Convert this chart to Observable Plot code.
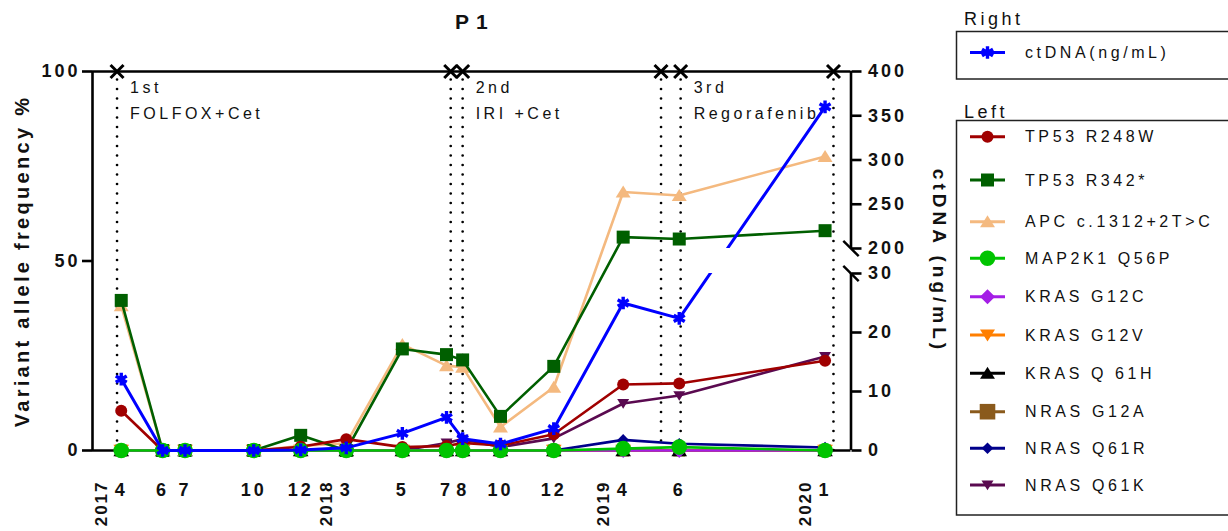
<!DOCTYPE html>
<html><head><meta charset="utf-8">
<script src="https://cdn.jsdelivr.net/npm/d3@7"></script>
<script src="https://cdn.jsdelivr.net/npm/@observablehq/plot@0.6"></script>
<style>
html,body{margin:0;padding:0;background:#fff;}
#wrap{position:relative;width:1228px;height:531px;overflow:hidden;background:#fff;}
#wrap svg{position:absolute;left:0;top:0;}
svg text{font-family:"Liberation Sans",Arial,sans-serif;letter-spacing:3px;fill:#111;}
g[aria-label="y-axis tick label"] text, g[aria-label="x-axis tick label"] text{font-weight:bold;letter-spacing:3px;}
g[aria-description="title"] text{letter-spacing:7px;}
g[aria-description="ylabel"] text{letter-spacing:3.3px;}
g[aria-description="rlabel"] text{letter-spacing:4px;}
g[aria-description="note"] text{letter-spacing:3.5px;}
g[aria-description="year"] text{letter-spacing:2px;}
</style></head>
<body><div id="wrap"></div>
<script>
// ---------- data ----------
const sampleDates = ["2017-04-16","2017-06-14","2017-07-16","2017-10-22","2017-12-28","2018-03-03","2018-05-22","2018-07-24","2018-08-16","2018-10-09","2018-12-24","2019-04-02","2019-06-21","2020-01-15"];
const monthLabels = ["4","6","7","10","12","3","5","7","8","10","12","4","6","1"];
const yearLabels = ["2017","2018","2019","2020"];
const yearFirstSample = [0,5,11,13];
const xDomain = ["2017-03-06","2020-02-21"];

const geneNames = ["TP53 R248W","TP53 R342*","APC c.1312+2T>C","MAP2K1 Q56P","KRAS G12C","KRAS G12V","KRAS Q 61H","NRAS G12A","NRAS Q61R","NRAS Q61K"];
const tp53R248W = [10.5,0,0,0,1.0,3.0,0.9,1.2,2.0,1.3,4.3,17.4,17.7,23.7];
const tp53R342  = [39.6,0,0,0,4.0,0,26.8,25.3,23.9,9.0,22.2,56.3,55.8,58.0];
const apc       = [38.2,0,0,0,1.2,1.9,28.0,22.4,22.0,6.2,16.7,68.2,67.3,77.6];
const map2k1    = [0,0,0,0,0,0,0,0,0,0,0,0.5,0.9,0];
const krasG12C  = [0,0,0,0,0,0,0,0,0,0,0,0,0,0];
const krasG12V  = [0,0,0,0,0,0,0,0,0,0,0,0,0,0];
const krasQ61H  = [0,0,0,0,0,0,0,0,0,0,0,0,0,0];
const nrasG12A  = [0,0,0,0,0,0,0,0,0,0,0,0,0,0];
const nrasQ61R  = [0,0,0,0,0,0,0,0,0,0,0,2.8,1.8,0.8];
const nrasQ61K  = [0,0,0,0,0,0,0,2.0,3.0,0.9,3.2,12.4,14.5,24.8];
const ctDNA     = [12.1,0,0,0,0.1,0.45,2.9,5.6,2.0,1.1,3.7,25.0,22.4,360];

const leftTicks = [0,50,100];
const rightTicks = [0,10,20,30,200,250,300,350,400];
const rightBreak = [30,200];

const treatments = ["1st","2nd","3rd"];
const regimens = ["FOLFOX+Cet","IRI +Cet","Regorafenib"];
const treatmentStart = ["2017-04-10","2018-08-16","2019-06-23"];
const treatmentEnd = ["2018-07-30","2019-05-26","2020-01-27"];

// ---------- styles ----------
const geneValues = [tp53R248W,tp53R342,apc,map2k1,krasG12C,krasG12V,krasQ61H,nrasG12A,nrasQ61R,nrasQ61K];
const geneColors = ["#a00000","#005f00","#f4b97f","#00c400","#a41ee6","#ff7f00","#000000","#8a5a1c","#00008b","#5a0a50"];
function custom(fn){return {draw(c,size){fn(c,Math.sqrt(size/Math.PI));}};}
const sqSym = custom((c,r)=>{c.moveTo(-r,-r);c.lineTo(r,-r);c.lineTo(r,r);c.lineTo(-r,r);c.closePath();});
const triUpSym = custom((c,r)=>{c.moveTo(0,-r);c.lineTo(1.15*r,0.85*r);c.lineTo(-1.15*r,0.85*r);c.closePath();});
const triDownSym = custom((c,r)=>{c.moveTo(0,r);c.lineTo(1.15*r,-0.85*r);c.lineTo(-1.15*r,-0.85*r);c.closePath();});
const diaSym = custom((c,r)=>{c.moveTo(0,-r);c.lineTo(r,0);c.lineTo(0,r);c.lineTo(-r,0);c.closePath();});
const timesSym = custom((c,r)=>{c.moveTo(-r,-r);c.lineTo(r,r);c.moveTo(r,-r);c.lineTo(-r,r);});
const slashSym = custom((c,r)=>{c.moveTo(-r,-r);c.lineTo(r,r);});
const geneSymbols = [d3.symbolCircle,sqSym,triUpSym,d3.symbolCircle,diaSym,triDownSym,triUpSym,sqSym,diaSym,triDownSym];
const geneSizes = [6,6.5,6.5,7.8,7.5,6.8,6.8,6,5.8,5.2];
const drawOrder = [9,8,7,6,5,4,2,1,0,3];

const W = 1228, H = 531;
const mL = 92, mR = 377.5, mT = 71, mB = 81;
const xStart = new Date(xDomain[0]), xEnd = new Date(xDomain[1]);
const dates = sampleDates.map(d => new Date(d));
const labelByTime = new Map(dates.map((d,i)=>[+d, monthLabels[i]]));
const boundaries = [...treatmentStart, ...treatmentEnd].map(d => new Date(d));
const yearRows = yearLabels.map((label,i)=>({label, date: dates[yearFirstSample[i]]}));
const ctRows = dates.map((d,j)=>({date:d, value: ctDNA[j]}));

const geneMarks = drawOrder.flatMap(i => {
  const rows = dates.map((d,j)=>({date:d, value: geneValues[i][j]}));
  return [
    Plot.line(rows, {x:"date", y:"value", stroke: geneColors[i], strokeWidth: 2.6}),
    Plot.dot(rows, {x:"date", y:"value", symbol: geneSymbols[i], r: geneSizes[i], fill: geneColors[i], stroke: "none"})
  ];
});

const plotA = Plot.plot({
  width: W, height: H, marginLeft: mL, marginRight: mR, marginTop: mT, marginBottom: mB,
  style: {background: "transparent", overflow: "visible"},
  x: {type: "utc", domain: [xStart, xEnd]},
  y: {domain: [0, 100]},
  marks: [
    Plot.ruleX(boundaries, {y1: 0, y2: 100, stroke: "#000", strokeWidth: 2.7, strokeDasharray: "0 9.5", strokeLinecap: "round"}),
    Plot.ruleY([0, 100], {stroke: "#000", strokeWidth: 2.6}),
    Plot.ruleX([xStart], {y1: 0, y2: 100, stroke: "#000", strokeWidth: 2.6}),
    Plot.dot(boundaries, {x: d => d, y: () => 100, symbol: timesSym, r: 6.5, stroke: "#000", strokeWidth: 3, fill: "none"}),
    Plot.text(treatments, {x: (d,i) => new Date(treatmentStart[i]), frameAnchor: "top", dx: 13, dy: 16, textAnchor: "start", lineAnchor: "middle", fontSize: 16, ariaDescription: "note"}),
    Plot.text(regimens, {x: (d,i) => new Date(treatmentStart[i]), frameAnchor: "top", dx: 13, dy: 42, textAnchor: "start", lineAnchor: "middle", fontSize: 16, ariaDescription: "note"}),
    ...geneMarks,
    Plot.axisY(leftTicks, {anchor: "left", tickSize: 10, tickPadding: 2, fontSize: 18, fontWeight: "bold", strokeWidth: 2.6, label: null}),
    Plot.axisX(dates, {anchor: "bottom", tickSize: 0, tickPadding: 33, fontSize: 18, fontWeight: "bold", tickFormat: d => labelByTime.get(+d), label: null}),
    Plot.text(yearRows, {x: "date", text: "label", frameAnchor: "bottom", dx: -20, dy: 30, rotate: -90, textAnchor: "end", lineAnchor: "middle", fontSize: 17, fontWeight: "bold", ariaDescription: "year"}),
    Plot.text(["P1"], {frameAnchor: "top", dx: 3, dy: -49, lineAnchor: "middle", fontSize: 21, fontWeight: "bold", ariaDescription: "title"}),
    Plot.text(["Variant allele frequency %"], {frameAnchor: "left", dx: -70, rotate: -90, lineAnchor: "middle", textAnchor: "middle", fontSize: 20, fontWeight: "bold", ariaDescription: "ylabel"})
  ]
});

const plotB = Plot.plot({
  width: W, height: H, marginLeft: mL, marginRight: mR, marginTop: mT, marginBottom: mB,
  style: {background: "transparent", overflow: "visible"},
  x: {type: "utc", domain: [xStart, xEnd], axis: null},
  y: {type: "linear", domain: [0, 30, 200, 400], range: [450, 273, 248, 71]},
  marks: [
    Plot.ruleX([xEnd], {y1: 0, y2: 30, stroke: "#000", strokeWidth: 2.6}),
    Plot.ruleX([xEnd], {y1: 200, y2: 400, stroke: "#000", strokeWidth: 2.6}),
    Plot.dot(rightBreak, {x: () => xEnd, y: d => d, symbol: slashSym, r: 7.7, stroke: "#000", strokeWidth: 2.4, fill: "none"}),
    Plot.axisY(rightTicks, {anchor: "right", tickSize: 10, tickPadding: 7, fontSize: 18, fontWeight: "bold", strokeWidth: 2.6, label: null}),
    Plot.line(ctRows, {x: "date", y: "value", stroke: "#0000ff", strokeWidth: 3}),
    Plot.rect([0], {x1: () => dates[12], x2: () => dates[13], y1: 30, y2: 200, fill: "white", insetLeft: 6, insetRight: 6}),
    Plot.dot(ctRows, {x: "date", y: "value", r: 3.2, fill: "#0000ff", stroke: "none"}),
    Plot.dot(ctRows, {x: "date", y: "value", symbol: "asterisk", r: 6, stroke: "#0000ff", strokeWidth: 3.4, fill: "none"}),
    Plot.text(["ctDNA (ng/mL)"], {frameAnchor: "right", dx: 88, rotate: 90, lineAnchor: "middle", textAnchor: "middle", fontSize: 19, fontWeight: "bold", ariaDescription: "rlabel"})
  ]
});

const wrap = document.getElementById("wrap");
wrap.appendChild(plotA);
wrap.appendChild(plotB);

// ---------- legend ----------
const leg = d3.select(wrap).append("svg").attr("width", W).attr("height", H);
const legRowY = [136.7,180,221.7,258.3,296.7,335,373.3,411.7,448.3,485];
const legSizes = [6,6.5,6.5,7.8,7.5,6.5,6.5,7.8,5.8,5.2];
function entry(y, color, sym, r, strokeOnly, label){
  leg.append("line").attr("x1",970).attr("x2",1005).attr("y1",y).attr("y2",y).attr("stroke",color).attr("stroke-width",3);
  if (strokeOnly) leg.append("circle").attr("cx",987.5).attr("cy",y).attr("r",3.2).attr("fill",color);
  const p = leg.append("path").attr("transform",`translate(987.5,${y})`).attr("d", d3.symbol(sym, Math.PI*r*r)());
  if (strokeOnly) p.attr("fill","none").attr("stroke",color).attr("stroke-width",3.4);
  else p.attr("fill",color);
  leg.append("text").attr("x",1025).attr("y",y).attr("dominant-baseline","central")
    .style("font-size","16px").style("letter-spacing","3.6px").text(label);
}
leg.append("text").attr("x",964).attr("y",25).style("font-size","18px").style("letter-spacing","3.5px").text("Right");
leg.append("rect").attr("x",956.5).attr("y",31.5).attr("width",300).attr("height",47.5).attr("fill","none").attr("stroke","#222").attr("stroke-width",1.5);
entry(52.5, "#0000ff", d3.symbolAsterisk, 6, true, "ctDNA(ng/mL)");
leg.append("text").attr("x",964).attr("y",117.5).style("font-size","18px").style("letter-spacing","3.5px").text("Left");
leg.append("rect").attr("x",956.5).attr("y",120.5).attr("width",300).attr("height",394.5).attr("fill","none").attr("stroke","#222").attr("stroke-width",1.5);
geneNames.forEach((n,i) => entry(legRowY[i], geneColors[i], geneSymbols[i], legSizes[i], false, n));
</script></body></html>
